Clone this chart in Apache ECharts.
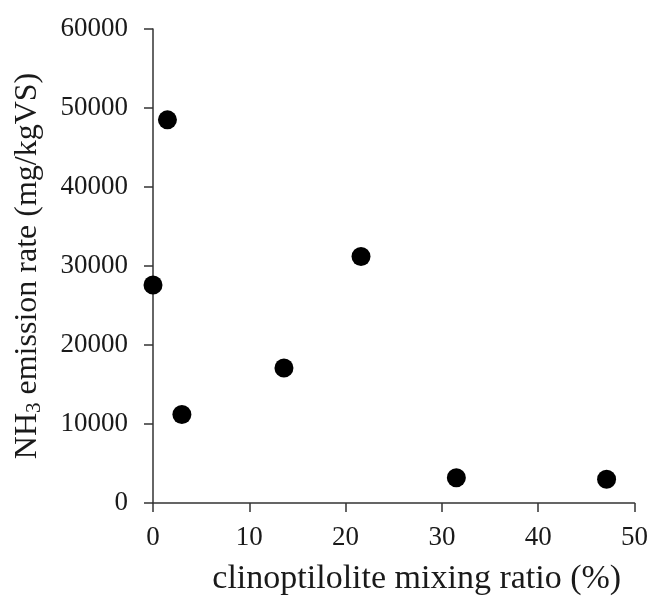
<!DOCTYPE html>
<html>
<head>
<meta charset="utf-8">
<script src="https://cdn.jsdelivr.net/npm/echarts@6/dist/echarts.min.js"></script>
<style>
  html, body { margin: 0; padding: 0; background: #fff; }
  #chart { width: 651px; height: 601px; }
</style>
</head>
<body>
<div id="chart"></div>
<script>
// Clinoptilolite mixing ratio (%) and NH3 emission rate (mg/kgVS)
const mixingRatio = [0, 1.5, 3.0, 13.6, 21.6, 31.5, 47.1];
const emissionRate = [27600, 48500, 11200, 17100, 31200, 3200, 3000];

const xTicks = { min: 0, max: 50, interval: 10 };
const yTicks = { min: 0, max: 60000, interval: 10000 };

const FONT = '"Liberation Serif", "Times New Roman", serif';
const INK = '#1a1a1a';

const points = mixingRatio.map((x, i) => [x, emissionRate[i]]);

const chart = echarts.init(document.getElementById('chart'), null, { renderer: 'canvas' });

const axisLine = { show: true, lineStyle: { color: '#333', width: 1.5 } };
const axisTick = { show: true, inside: false, length: 9, lineStyle: { color: '#333', width: 1.5 } };

chart.setOption({
  animation: false,
  backgroundColor: '#fff',
  grid: { left: 153, right: 14, top: 29, bottom: 94, containLabel: false },
  xAxis: {
    type: 'value',
    min: xTicks.min, max: xTicks.max, interval: xTicks.interval,
    axisLine, axisTick,
    splitLine: { show: false },
    axisLabel: { margin: 21, fontFamily: FONT, fontSize: 27, color: INK },
    name: 'clinoptilolite mixing ratio (%)',
    nameLocation: 'middle',
    nameGap: 59,
    nameTextStyle: { fontFamily: FONT, fontSize: 34, color: INK, padding: [0, 0, 0, 46] }
  },
  yAxis: {
    type: 'value',
    min: yTicks.min, max: yTicks.max, interval: yTicks.interval,
    axisLine, axisTick,
    splitLine: { show: false },
    axisLabel: {
      margin: 25, fontFamily: FONT, fontSize: 27, color: INK,
      formatter: (v) => String(v)
    },
    name: '{n|NH}{s|3}{n| emission rate (mg/kgVS)}',
    nameLocation: 'middle',
    nameRotate: 90,
    nameGap: 108,
    nameTextStyle: {
      fontFamily: FONT, fontSize: 32, color: INK,
      rich: {
        n: { fontFamily: FONT, fontSize: 32, color: INK },
        s: { fontFamily: FONT, fontSize: 21, color: INK, verticalAlign: 'bottom', padding: [14, 0, 0, 0] }
      }
    }
  },
  series: [{
    type: 'scatter',
    data: points,
    symbol: 'circle',
    symbolSize: 19,
    itemStyle: { color: '#000', opacity: 1 }
  }]
});
</script>
</body>
</html>
